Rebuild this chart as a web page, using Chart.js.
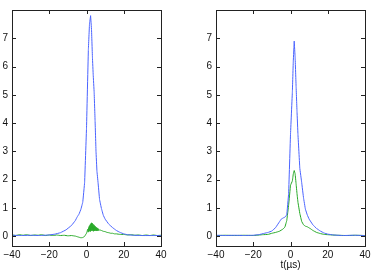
<!DOCTYPE html>
<html>
<head>
<meta charset="utf-8">
<script src="https://cdn.jsdelivr.net/npm/chart.js@4/dist/chart.umd.min.js"></script>
<style>
  html, body { margin: 0; padding: 0; background: #fff; }
  #wrap { position: relative; width: 374px; height: 276px; overflow: hidden; }
  .box { position: absolute; top: 0; width: 187px; height: 276px; }
</style>
</head>
<body>
<div id="wrap">
  <div class="box" style="left:0"><canvas id="leftChart"></canvas></div>
  <div class="box" style="left:187px"><canvas id="rightChart"></canvas></div>
</div>
<script>
// tick labels
var xTicks = [-40, -20, 0, 20, 40]
var yTicks = [0, 1, 2, 3, 4, 5, 6, 7]
var xLabel = 't(µs)'

// left panel, blue
var leftBlueT = [-40, -35, -30, -25, -20, -17, -14, -11, -8, -6, -5, -4, -3, -2, -1, 0, 1, 1.6, 2.2, 2.7, 3.2, 3.6, 4.1, 4.6, 5.1, 5.6, 6.2, 7, 8, 9, 10, 12, 14, 16, 18, 20, 22, 25, 30, 35, 40]
var leftBlueV = [0.03, 0.02, 0.03, 0.02, 0.04, 0.07, 0.12, 0.22, 0.38, 0.55, 0.68, 0.78, 0.95, 1.2, 1.9, 3.8, 6.6, 7.5, 7.8, 7.3, 6.3, 5.7, 5.1, 4.1, 3.0, 2.3, 1.9, 1.3, 0.98, 0.74, 0.6, 0.42, 0.3, 0.2, 0.13, 0.08, 0.05, 0.03, 0.02, 0.02, 0.02]
// left panel, green (noisy around the peak)
var leftGreenT = [-40, -38, -36, -34, -32, -30, -28, -26, -24, -22, -20, -18, -16, -14, -12, -10, -8, -6, -5, -4, -3, -2, -1, -0.5, 0, 0.3, 0.6, 0.9, 1.1, 1.3, 1.5, 1.7, 1.9, 2.1, 2.3, 2.5, 2.7, 2.9, 3.1, 3.3, 3.5, 3.7, 3.9, 4.1, 4.3, 4.5, 4.7, 4.9, 5.1, 5.3, 5.5, 5.7, 5.9, 6.1, 6.4, 6.7, 7, 7.5, 8, 9, 10, 11, 12, 13, 14, 15, 16, 18, 20, 22, 24, 26, 28, 30, 32, 34, 36, 38, 40]
var leftGreenV = [0.04, 0.02, 0.05, 0.03, 0.05, 0.02, 0.04, 0.03, 0.05, 0.02, 0.04, 0.02, 0.04, 0.02, 0.03, 0.01, 0.02, 0.0, -0.02, -0.04, -0.06, -0.05, -0.01, 0.05, 0.1, 0.16, 0.24, 0.14, 0.3, 0.16, 0.36, 0.18, 0.4, 0.16, 0.44, 0.2, 0.47, 0.18, 0.46, 0.2, 0.42, 0.17, 0.4, 0.19, 0.37, 0.18, 0.35, 0.2, 0.32, 0.18, 0.3, 0.2, 0.28, 0.18, 0.26, 0.2, 0.22, 0.21, 0.2, 0.17, 0.16, 0.13, 0.12, 0.1, 0.1, 0.08, 0.08, 0.06, 0.06, 0.04, 0.05, 0.03, 0.04, 0.02, 0.04, 0.02, 0.04, 0.02, 0.03]

// right panel, blue
var rightBlueT = [-40, -35, -30, -25, -20, -17, -14, -12, -10, -8, -6, -5, -4, -3, -2, -1, 0, 1, 1.5, 2, 2.5, 3, 3.5, 4, 5, 6, 7, 8, 9, 10, 12, 14, 16, 18, 20, 23, 28, 34, 40]
var rightBlueV = [0.03, 0.02, 0.03, 0.02, 0.03, 0.05, 0.1, 0.13, 0.18, 0.3, 0.5, 0.6, 0.64, 0.67, 0.75, 1.5, 3.6, 5.1, 6.2, 6.9, 6.3, 5.3, 4.4, 3.6, 2.4, 1.9, 1.35, 0.95, 0.75, 0.6, 0.4, 0.27, 0.18, 0.11, 0.07, 0.04, 0.02, 0.03, 0.02]
// right panel, green
var rightGreenT = [-40, -35, -30, -25, -20, -15, -12, -10, -8, -6, -4, -3, -2, -1, 0, 1, 1.5, 2, 2.5, 3, 3.5, 4, 5, 6, 7, 8, 9, 10, 11, 12, 14, 16, 18, 20, 25, 30, 35, 40]
var rightGreenV = [0.02, 0.03, 0.02, 0.03, 0.02, 0.05, 0.06, 0.1, 0.13, 0.17, 0.25, 0.32, 0.55, 1.1, 1.8, 1.95, 2.2, 2.32, 2.2, 1.85, 1.5, 1.2, 0.8, 0.52, 0.4, 0.35, 0.33, 0.29, 0.25, 0.2, 0.13, 0.09, 0.06, 0.05, 0.03, 0.02, 0.03, 0.02]

var BLUE = '#4a63ff'
var GREEN = '#25a825'

function pts(ts, vs) {
    return ts.map(function (t, i) { return { x: t, y: vs[i] } })
}

/** matlab style box with inward ticks */
var boxPlugin = {
    id: 'boxTicks',
    afterDraw: function (chart) {
        var ctx = chart.ctx, a = chart.chartArea
        var xs = chart.scales.x, ys = chart.scales.y
        ctx.save()
        ctx.strokeStyle = '#222'
        ctx.lineWidth = 1
        ctx.strokeRect(Math.round(a.left) + 0.5, Math.round(a.top) + 0.5, Math.round(a.right - a.left), Math.round(a.bottom - a.top))
        ctx.beginPath()
        xTicks.forEach(function (v) {
            var px = Math.round(xs.getPixelForValue(v)) + 0.5
            ctx.moveTo(px, a.bottom); ctx.lineTo(px, a.bottom - 4)
            ctx.moveTo(px, a.top); ctx.lineTo(px, a.top + 4)
        })
        yTicks.forEach(function (v) {
            var py = Math.round(ys.getPixelForValue(v)) + 0.5
            ctx.moveTo(a.left, py); ctx.lineTo(a.left + 4, py)
            ctx.moveTo(a.right, py); ctx.lineTo(a.right - 4, py)
        })
        ctx.stroke()
        ctx.restore()
    }
}

function makeChart(id, blue, green, yWidth, padRight, withTitle) {
    var ctx = document.getElementById(id).getContext('2d')
    var line = { borderWidth: 1, pointRadius: 0, fill: false, tension: 0.0001 }
    return new Chart(ctx, {
        type: 'line',
        data: {
            datasets: [
                Object.assign({ data: blue, borderColor: BLUE }, line),
                Object.assign({ data: green, borderColor: GREEN }, line)
            ]
        },
        options: {
            responsive: false,
            animation: false,
            events: [],
            layout: { padding: { left: 0, right: padRight, top: 3, bottom: 0 } },
            plugins: { legend: { display: false }, tooltip: { enabled: false } },
            scales: {
                x: {
                    type: 'linear', min: -40, max: 40,
                    grid: { display: false, drawTicks: false },
                    border: { display: false },
                    afterBuildTicks: function (s) { s.ticks = xTicks.map(function (v) { return { value: v } }) },
                    afterFit: function (s) { s.height = 30 },
                    ticks: {
                        padding: 3, maxRotation: 0, autoSkip: false, color: '#111',
                        font: { family: 'Liberation Sans', size: 10 },
                        callback: function (v) { return v < 0 ? '\u2212' + Math.abs(v) : '' + v }
                    },
                    title: {
                        display: withTitle, text: xLabel, color: '#111', padding: { top: 0, bottom: 5 },
                        font: { family: 'Liberation Sans', size: 10 }
                    }
                },
                y: {
                    type: 'linear', min: -0.35, max: 8,
                    grid: { display: false, drawTicks: false },
                    border: { display: false },
                    afterBuildTicks: function (s) { s.ticks = yTicks.map(function (v) { return { value: v } }) },
                    afterFit: function (s) { s.width = yWidth },
                    ticks: {
                        padding: 4, color: '#111',
                        font: { family: 'Liberation Sans', size: 10 }
                    }
                }
            }
        },
        plugins: [boxPlugin]
    })
}

document.getElementById('leftChart').width = 187
document.getElementById('leftChart').height = 276
document.getElementById('rightChart').width = 187
document.getElementById('rightChart').height = 276

makeChart('leftChart', pts(leftBlueT, leftBlueV), pts(leftGreenT, leftGreenV), 12, 26, false)
makeChart('rightChart', pts(rightBlueT, rightBlueV), pts(rightGreenT, rightGreenV), 29, 9, true)
</script>
</body>
</html>
